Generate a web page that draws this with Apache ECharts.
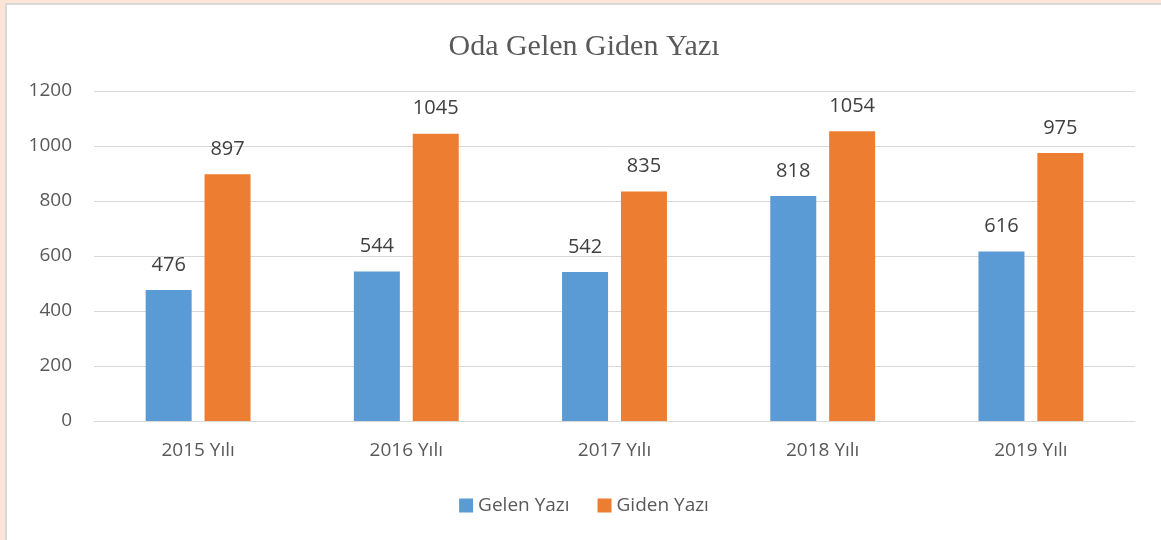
<!DOCTYPE html>
<html>
<head>
<meta charset="utf-8">
<script src="https://cdn.jsdelivr.net/npm/echarts@6/dist/echarts.min.js"></script>
<style>
  html, body { margin: 0; padding: 0; }
  #frame { position: relative; width: 1161px; height: 540px; background: #fce4d6; overflow: hidden; }
  #chart { position: absolute; left: 5px; top: 3px; width: 1154px; height: 535px;
           background: #fff; border-left: 2px solid #d9d9d9; border-top: 2px solid #d9d9d9; }
</style>
</head>
<body>
<div id="frame"><div id="chart"></div></div>
<script>
/** Oda gelen / giden yazı */
var years = ['2015 Yılı', '2016 Yılı', '2017 Yılı', '2018 Yılı', '2019 Yılı'];
var gelen = [476, 544, 542, 818, 616];
var giden = [897, 1045, 835, 1054, 975];

var font = '"Open Sans", "Noto Sans", sans-serif';
var chart = echarts.init(document.getElementById('chart'));
var option = {
  animation: false,
  title: {
    text: 'Oda Gelen Giden Yazı',
    left: 'center',
    top: 22,
    textStyle: {
      fontFamily: '"Liberation Serif", serif',
      fontSize: 30,
      fontWeight: 'normal',
      color: '#595959'
    }
  },
  legend: {
    data: ['Gelen Yazı', 'Giden Yazı'],
    bottom: 20,
    left: 'center',
    itemWidth: 14,
    itemHeight: 14,
    itemGap: 28,
    icon: 'rect',
    textStyle: { fontFamily: font, fontSize: 19, color: '#595959' }
  },
  grid: { left: 87, right: 26, top: 86, bottom: 119 },
  xAxis: {
    type: 'category',
    data: years,
    axisLine: { lineStyle: { color: '#d9d9d9', width: 1 } },
    axisTick: { show: false },
    axisLabel: { fontFamily: font, fontSize: 19, color: '#595959', margin: 20 }
  },
  yAxis: {
    type: 'value',
    min: 0,
    max: 1200,
    interval: 200,
    axisLine: { show: false },
    axisTick: { show: false },
    splitLine: { lineStyle: { color: '#d9d9d9', width: 1 } },
    axisLabel: {
      fontFamily: font, fontSize: 19, color: '#595959', margin: 22,
      formatter: function (v) { return String(v); }
    }
  },
  series: [{
    name: 'Gelen Yazı',
    type: 'bar',
    data: gelen,
    barWidth: 46,
    barGap: '28%',
    itemStyle: { color: '#5b9bd5' },
    label: { show: true, position: 'top', distance: 15, fontFamily: font, fontSize: 20, color: '#404040' }
  }, {
    name: 'Giden Yazı',
    type: 'bar',
    data: giden,
    barWidth: 46,
    itemStyle: { color: '#ed7d31' },
    label: { show: true, position: 'top', distance: 15, fontFamily: font, fontSize: 20, color: '#404040' }
  }]
};

chart.setOption(option);
</script>
</body>
</html>
